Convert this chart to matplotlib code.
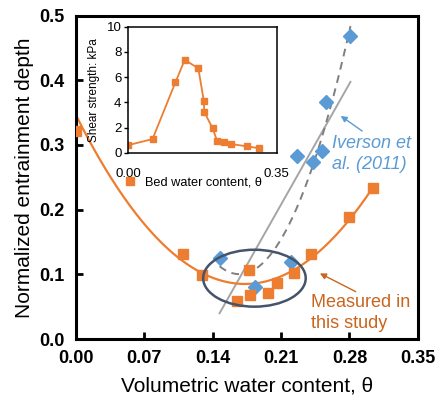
import numpy as np
import matplotlib
matplotlib.use("Agg")
import matplotlib.pyplot as plt
from matplotlib.patches import Ellipse
from matplotlib.lines import Line2D

plt.rcParams['font.family'] = ['Liberation Sans', 'DejaVu Sans']

# ---- data ----
# measured in this study (orange squares)
theta_meas = [0.000, 0.110, 0.129, 0.165, 0.177, 0.178, 0.197, 0.206, 0.223, 0.241, 0.279, 0.304]
depth_meas = [0.321, 0.131, 0.099, 0.059, 0.107, 0.068, 0.071, 0.086, 0.102, 0.131, 0.189, 0.234]
# polynomial trendline of the measured data as drawn (a*x^2 + b*x + c)
trend_meas = [8.71, -3.015, 0.346]

# Iverson et al. (2011) (blue diamonds)
theta_iv = [0.147, 0.183, 0.220, 0.226, 0.243, 0.252, 0.256, 0.281]
depth_iv = [0.126, 0.081, 0.119, 0.283, 0.273, 0.290, 0.366, 0.468]

# inset: shear strength vs bed water content
theta_bed = [0.000, 0.057, 0.111, 0.133, 0.165, 0.178, 0.179, 0.199, 0.209, 0.225, 0.243, 0.280, 0.307]
shear_kpa = [0.61, 1.09, 5.59, 7.38, 6.70, 4.10, 3.23, 1.93, 0.95, 0.83, 0.69, 0.51, 0.37]

xticks = [0.00, 0.07, 0.14, 0.21, 0.28, 0.35]
yticks = [0.0, 0.1, 0.2, 0.3, 0.4, 0.5]

orange = '#ED7D31'
dark_orange = '#C9651F'
blue = '#5B9BD5'

fig = plt.figure(figsize=(4.38, 4.0), dpi=100)
ax = fig.add_axes([0.1735, 0.1525, 0.7805, 0.8085])

# trendlines
xm = np.linspace(min(theta_meas), max(theta_meas), 200)
ax.plot(xm, np.polyval(trend_meas, xm), color=orange, lw=1.6, zorder=2)

p_lin = np.polyfit(theta_iv, depth_iv, 1)
xl = np.linspace(min(theta_iv), max(theta_iv), 50)
ax.plot(xl, np.polyval(p_lin, xl), color='#A5A5A5', lw=1.4, zorder=1)

p_iv = np.polyfit(theta_iv, depth_iv, 2)
xi = np.linspace(min(theta_iv), max(theta_iv), 200)
ax.plot(xi, np.polyval(p_iv, xi), color='#7F7F7F', lw=1.4, ls=(0, (4, 3)), zorder=1)

ax.plot(theta_meas, depth_meas, 's', color=orange, ms=6.8, mec=orange, zorder=4)
ax.plot(theta_iv, depth_iv, 'D', color=blue, ms=7.3, mec=blue, zorder=3)

ax.add_patch(Ellipse((0.1827, 0.094), 0.105, 0.088, fill=False,
                     ec='#44546A', lw=1.8, zorder=5))

# annotations
ax.text(0.262, 0.315, 'Iverson et\nal. (2011)', color=blue, fontsize=13,
        style='italic', ha='left', va='top', linespacing=1.3)
ax.annotate('', xy=(0.271, 0.345), xytext=(0.293, 0.3215),
            arrowprops=dict(arrowstyle='-|>', color=blue, lw=1.0,
                            shrinkA=0, shrinkB=0, mutation_scale=9))
ax.text(0.2405, 0.070, 'Measured in\nthis study', color=dark_orange, fontsize=13,
        ha='left', va='top', linespacing=1.3)
ax.annotate('', xy=(0.2497, 0.1015), xytext=(0.2864, 0.0732),
            arrowprops=dict(arrowstyle='-|>', color=dark_orange, lw=1.0,
                            shrinkA=0, shrinkB=0, mutation_scale=9))

ax.set_xlim(0, 0.35)
ax.set_ylim(0, 0.5)
ax.set_xticks(xticks)
ax.set_yticks(yticks)
ax.set_xticklabels([f'{v:.2f}' for v in xticks], fontweight='bold', fontsize=13)
ax.set_yticklabels([f'{v:.1f}' for v in yticks], fontweight='bold', fontsize=13)
ax.tick_params(direction='in', length=5, width=2, pad=8)
for s in ax.spines.values():
    s.set_linewidth(2.2)
ax.set_xlabel('Volumetric water content, θ', fontsize=15, labelpad=7)
ax.set_ylabel('Normalized entrainment depth', fontsize=15, labelpad=4)

# inset
axin = fig.add_axes([0.293, 0.618, 0.339, 0.315])
axin.plot(theta_bed, shear_kpa, '-s', color=orange, lw=1.3, ms=5, mec=orange)
axin.set_xlim(0, 0.35)
axin.set_ylim(0, 10)
axin.set_xticks([0.0, 0.35])
axin.set_xticklabels(['0.00', '0.35'], fontsize=9.5)
axin.set_yticks(range(0, 11, 2))
axin.tick_params(axis='y', direction='out', length=3, width=1, labelsize=9.5, pad=2)
axin.tick_params(axis='x', length=0, pad=11)
for s in axin.spines.values():
    s.set_linewidth(1.1)
axin.set_ylabel('Shear strength: kPa', fontsize=8.5, labelpad=5)
axin.legend(handles=[Line2D([], [], marker='s', ls='none', color=orange, ms=6)],
            labels=['Bed water content, θ'], loc='center left',
            bbox_to_anchor=(-0.075, -0.235), frameon=False, fontsize=9.2,
            handletextpad=0.15, borderpad=0, borderaxespad=0)

fig.savefig('out.png', dpi=100)
